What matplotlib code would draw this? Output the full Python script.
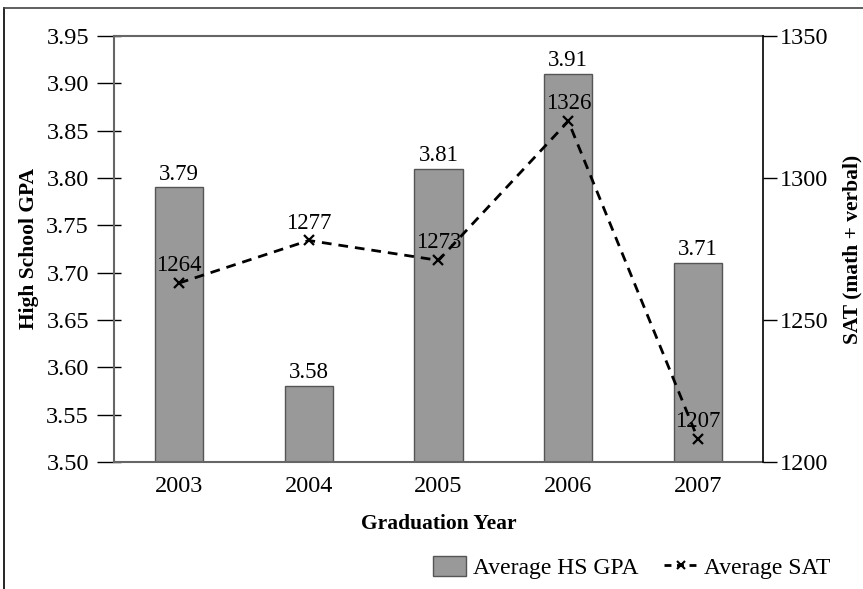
import matplotlib
matplotlib.use("Agg")
import matplotlib.pyplot as plt
from matplotlib.lines import Line2D
from matplotlib.patches import Patch
import numpy as np

years = ["2003", "2004", "2005", "2006", "2007"]
gpa = [3.79, 3.58, 3.81, 3.91, 3.71]
# SAT values as drawn (marker positions) and as labelled in the chart
sat = [1263, 1278, 1271, 1320, 1208]
sat_labels = ["1264", "1277", "1273", "1326", "1207"]
gpa_ticks = [3.50, 3.55, 3.60, 3.65, 3.70, 3.75, 3.80, 3.85, 3.90, 3.95]
sat_ticks = [1200, 1250, 1300, 1350]

plt.rcParams['font.family'] = ['Liberation Serif', 'DejaVu Serif']

fig = plt.figure(figsize=(8.63, 5.89), dpi=100)
ax = fig.add_axes([0.1321, 0.2156, 0.752, 0.7233])
x = np.arange(len(years))

ax.bar(x, gpa, width=0.37, color='#999999', edgecolor='#555555', linewidth=1.0, zorder=2)
ax.set_xlim(-0.5, 4.5)
ax.set_ylim(3.50, 3.95)
ax.set_yticks(gpa_ticks)
ax.set_yticklabels([f"{t:.2f}" for t in gpa_ticks])
ax.set_xticks(x)
ax.set_xticklabels(years)
ax.tick_params(axis='x', length=0, pad=10, labelsize=17.5)
ax.tick_params(axis='y', direction='out', length=12, width=1.0, pad=6, labelsize=17.5, colors='black')
ax.yaxis.remove_overlapping_locs = False
ax.set_yticks(gpa_ticks, minor=True)
ax.tick_params(axis='y', which='minor', direction='in', length=5, width=1.0)

for xi, v in zip(x, gpa):
    ax.annotate(f"{v:.2f}", (xi, v), xytext=(0, 2), textcoords='offset points',
                ha='center', va='bottom', fontsize=16.5)

ax.set_xlabel("Graduation Year", fontsize=15.5, fontweight='bold', labelpad=12)
ax.set_ylabel("High School GPA", fontsize=15.5, fontweight='bold', labelpad=5)

for s in ['left', 'bottom', 'top']:
    ax.spines[s].set_color('#666666')
    ax.spines[s].set_linewidth(1.5)
ax.spines['right'].set_visible(False)

ax2 = ax.twinx()
ax2.set_ylim(1200, 1350)
ax2.set_yticks(sat_ticks)
ax2.plot(x, sat, linestyle=(0, (3.5, 2.5)), color='black', linewidth=2.0,
         marker='x', markersize=7, markeredgewidth=1.6, zorder=3)
for xi, v, lab in zip(x, sat, sat_labels):
    ax2.annotate(lab, (xi, v), xytext=(0, 5), textcoords='offset points',
                 ha='center', va='bottom', fontsize=16.5)
ax2.tick_params(axis='y', direction='out', length=10, width=1.0, pad=2, labelsize=17.5)
ax2.set_ylabel("SAT (math + verbal)", fontsize=15.5, fontweight='bold', labelpad=10)
for s in ['left', 'bottom', 'top']:
    ax2.spines[s].set_visible(False)
ax2.spines['right'].set_color('black')
ax2.spines['right'].set_linewidth(1.2)

handles = [Patch(facecolor='#999999', edgecolor='#555555', label='Average HS GPA'),
           Line2D([], [], color='black', linestyle=(0, (2.5, 2)), linewidth=2.0, marker='x',
                  markersize=6, markeredgewidth=1.5, label='Average SAT')]
fig.legend(handles=handles, loc='center right', bbox_to_anchor=(0.987, 0.037), ncol=2,
           frameon=False, fontsize=17, handlelength=1.4, handleheight=0.95,
           handletextpad=0.3, columnspacing=1.06)

fig.add_artist(Line2D([4/863, 4/863], [0, 1 - 8/589], color='black', linewidth=1.2,
                      transform=fig.transFigure))
fig.add_artist(Line2D([4/863, 1], [1 - 8/589, 1 - 8/589], color='#444444', linewidth=1.2,
                      transform=fig.transFigure))

fig.savefig("out.png", dpi=100)
